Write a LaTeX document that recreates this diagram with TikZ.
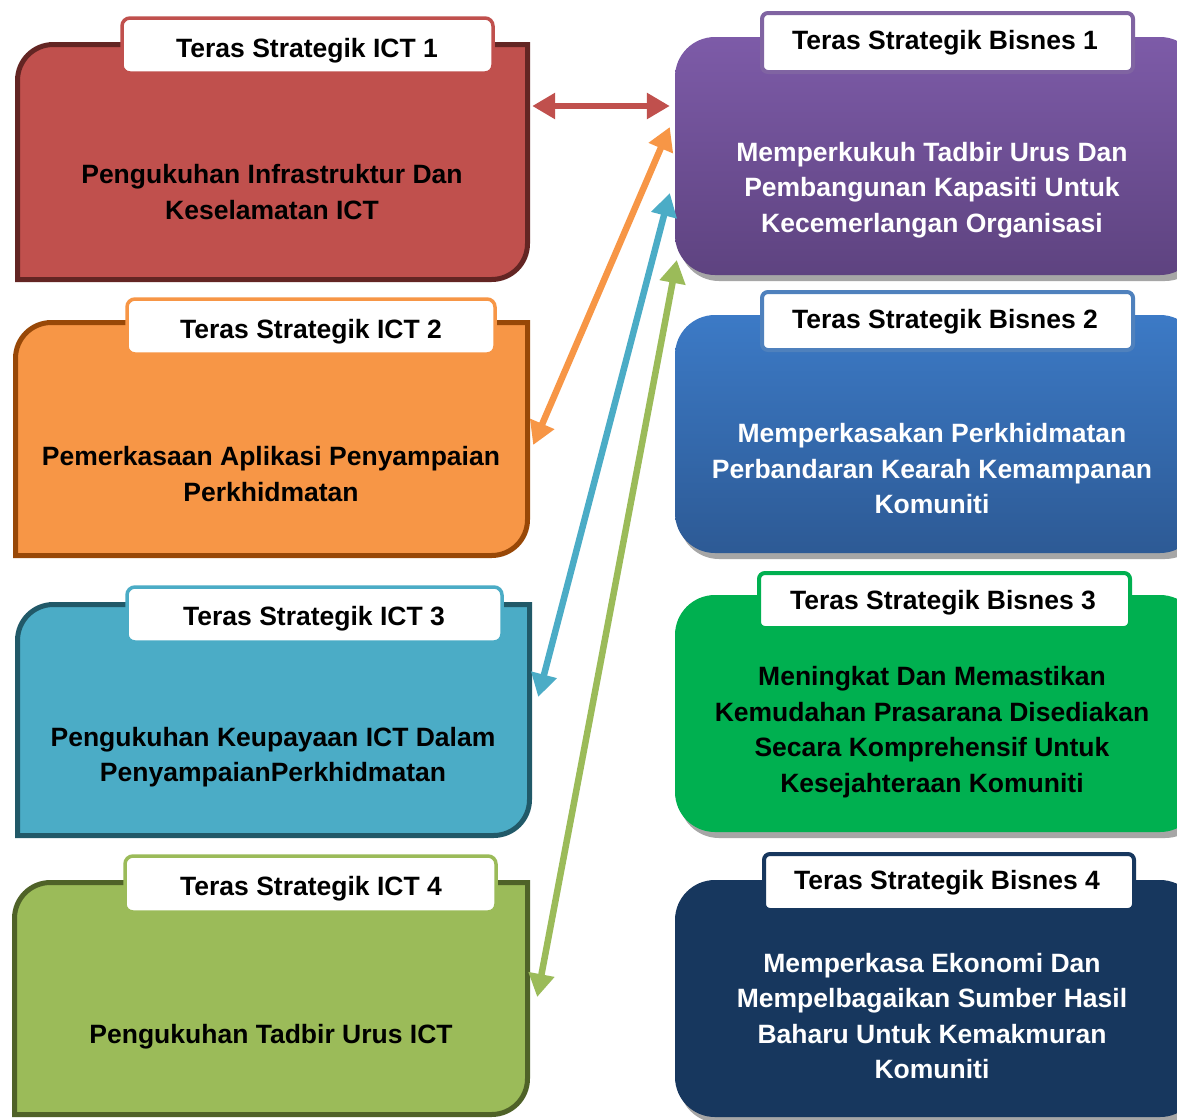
\documentclass[tikz,border=0pt]{standalone}
\usepackage{fontspec}
\setmainfont{Liberation Sans}
\usetikzlibrary{arrows.meta,calc}
\definecolor{redF}{HTML}{C0504D}
\definecolor{redB}{HTML}{632523}
\definecolor{orgF}{HTML}{F79646}
\definecolor{orgB}{HTML}{984807}
\definecolor{bluF}{HTML}{4BACC6}
\definecolor{bluB}{HTML}{215968}
\definecolor{grnF}{HTML}{9BBB59}
\definecolor{grnB}{HTML}{4F6228}
\definecolor{purT}{HTML}{7D5BA8}
\definecolor{purB}{HTML}{5E4380}
\definecolor{purE}{HTML}{8064A2}
\definecolor{bbT}{HTML}{3C7AC6}
\definecolor{bbB}{HTML}{2D5A95}
\definecolor{bbE}{HTML}{4F81BD}
\definecolor{bisG}{HTML}{00B050}
\definecolor{navy}{HTML}{17375E}
\definecolor{shd}{HTML}{A6A6A6}
\tikzset{
  lshape/.style n args={4}{insert path={(#1,#4) -- (#1,#2+36) .. controls (#1,#2+16) and (#1+16,#2) .. (#1+36,#2) -- (#3,#2) -- (#3,#4-36) .. controls (#3,#4-16) and (#3-16,#4) .. (#3-36,#4) -- cycle}},
  lbox/.style={line width=5pt, line join=miter},
  ltab/.style={fill=white, line width=3.5pt, rounded corners=8pt},
  rtab/.style={fill=white, line width=4pt, rounded corners=6pt},
  rbox/.style={rounded corners=40pt},
  rshadow/.style={fill=shd, rounded corners=40pt},
  area/.style={inner sep=0pt, draw=none},
  txt/.style={font=\fontsize{26.5}{35.5}\selectfont\bfseries, align=center, inner sep=0pt},
  arr/.style={line width=6.5pt, {Triangle[length=23pt,width=25pt]}-{Triangle[length=23pt,width=25pt]}}
}
\begin{document}
\begin{tikzpicture}[x=1pt,y=-1pt]
\clip (0,0) rectangle (1177,1119);
\fill[white] (0,0) rectangle (1177,1119);
% ---------- left (ICT) boxes ----------
\draw[lbox, draw=redB, fill=redF, lshape={17.5}{44.5}{527.5}{279.5}];
\draw[lbox, draw=orgB, fill=orgF, lshape={15.5}{322.5}{527.5}{555.5}];
\draw[lbox, draw=bluB, fill=bluF, lshape={17.5}{604.5}{529.5}{835.5}];
\draw[lbox, draw=grnB, fill=grnF, lshape={14.5}{882.5}{527.5}{1114.5}];
\node[area, minimum width=515pt, minimum height=240pt] (ict1) at (272.5,162) {};
\node[area, minimum width=517pt, minimum height=238pt] (ict2) at (271.5,439) {};
\node[area, minimum width=517pt, minimum height=236pt] (ict3) at (273.5,720) {};
\node[area, minimum width=518pt, minimum height=237pt] (ict4) at (271,998.5) {};
\draw[ltab, draw=redF] (122,18) rectangle (493,73);
\draw[ltab, draw=orgF] (127,299) rectangle (495,354);
\draw[ltab, draw=bluF] (127,587) rectangle (502,642);
\draw[ltab, draw=grnF] (125,856) rectangle (496,912);
\node[txt] (ict1h) at (307,51) {Teras Strategik ICT 1};
\node[txt] (ict2h) at (311,332) {Teras Strategik ICT 2};
\node[txt] (ict3h) at (314,619) {Teras Strategik ICT 3};
\node[txt] (ict4h) at (311,889) {Teras Strategik ICT 4};
\node[txt] (ict1t) at (272,192) {Pengukuhan Infrastruktur Dan\\Keselamatan ICT};
\node[txt] (ict2t) at (271,474) {Pemerkasaan Aplikasi Penyampaian\\Perkhidmatan};
\node[txt] (ict3t) at (273,757) {Pengukuhan Keupayaan ICT Dalam\\PenyampaianPerkhidmatan};
\node[txt] (ict4t) at (271,1037) {Pengukuhan Tadbir Urus ICT};
% ---------- right (Bisnes) boxes ----------
\fill[rshadow] (679,42) rectangle (1205,281);
\fill[rshadow] (679,320) rectangle (1205,559);
\fill[rshadow] (679,600) rectangle (1205,838);
\fill[rshadow] (679,885) rectangle (1205,1123);
\shade[rbox, top color=purT, bottom color=purB] (675,37) rectangle (1200,275);
\shade[rbox, top color=bbT, bottom color=bbB] (675,315) rectangle (1200,553);
\fill[rbox, bisG] (675,595) rectangle (1200,832);
\fill[rbox, navy] (675,880) rectangle (1200,1117);
\node[area, minimum width=525pt, minimum height=238pt] (bis1) at (937.5,156) {};
\node[area, minimum width=525pt, minimum height=238pt] (bis2) at (937.5,434) {};
\node[area, minimum width=525pt, minimum height=237pt] (bis3) at (937.5,713.5) {};
\node[area, minimum width=525pt, minimum height=237pt] (bis4) at (937.5,998.5) {};
\draw[rtab, draw=purE] (762,13) rectangle (1133,72);
\draw[rtab, draw=bbE] (762,292) rectangle (1133,350);
\draw[rtab, draw=bisG] (759,573) rectangle (1130,628);
\draw[rtab, draw=navy] (764,854) rectangle (1134,910);
\node[txt] (bis1h) at (945,43) {Teras Strategik Bisnes 1};
\node[txt] (bis2h) at (945,322) {Teras Strategik Bisnes 2};
\node[txt] (bis3h) at (943,603) {Teras Strategik Bisnes 3};
\node[txt] (bis4h) at (947,883) {Teras Strategik Bisnes 4};
\node[txt, text=white] (bis1t) at (932,190) {Memperkukuh Tadbir Urus Dan\\Pembangunan Kapasiti Untuk\\Kecemerlangan Organisasi};
\node[txt, text=white] (bis2t) at (932,469) {Memperkasakan Perkhidmatan\\Perbandaran Kearah Kemampanan\\Komuniti};
\node[txt] (bis3t) at (932,732) {Meningkat Dan Memastikan\\Kemudahan Prasarana Disediakan\\Secara Komprehensif Untuk\\Kesejahteraan Komuniti};
\node[txt, text=white] (bis4t) at (932,1016) {Memperkasa Ekonomi Dan\\Mempelbagaikan Sumber Hasil\\Baharu Untuk Kemakmuran\\Komuniti};
% ---------- connectors ----------
\draw[arr, draw=redF, fill=redF] ($(ict1.east)+(2,-56)$) -- ($(bis1.west)+(-5,-50)$);
\draw[arr, draw=orgF, fill=orgF] ($(ict2.east)+(3,6)$) -- ($(bis1.west)+(-5,-29)$);
\draw[arr, draw=bluF, fill=bluF] ($(ict3.east)+(6,-23)$) -- ($(bis1.west)+(-5,37)$);
\draw[arr, draw=grnF, fill=grnF] ($(ict4.east)+(7,-1.5)$) -- ($(bis1.west)+(2,104)$);
\end{tikzpicture}
\end{document}
